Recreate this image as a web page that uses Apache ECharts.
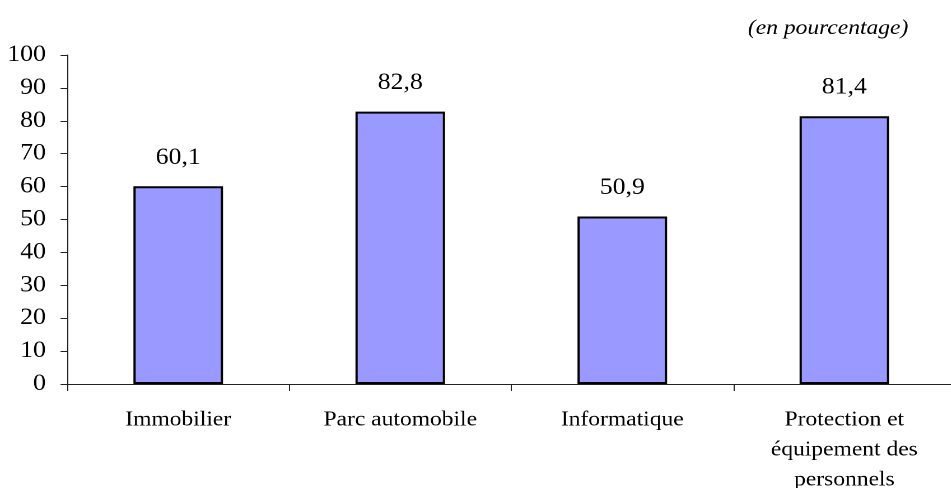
<!DOCTYPE html>
<html><head><meta charset="utf-8">
<script src="https://cdn.jsdelivr.net/npm/echarts@6/dist/echarts.min.js"></script>
<style>
html,body{margin:0;padding:0;background:#fff;overflow:hidden}
#c{width:849px;height:488px;transform:scaleX(1.12);transform-origin:0 0}
</style>
</head><body><div id="c"></div>
<script>
const categories = ["Immobilier", "Parc automobile", "Informatique", "Protection et\néquipement des\npersonnels"];
const values = [60.1, 82.8, 50.9, 81.4];
const yTicks = [0, 10, 20, 30, 40, 50, 60, 70, 80, 90, 100];
const unitLabel = "(en pourcentage)";

const chart = echarts.init(document.getElementById('c'), null, { renderer: 'canvas', devicePixelRatio: 2 });
const font = '"Liberation Serif", "Times New Roman", serif';
chart.setOption({
  animation: false,
  textStyle: { fontFamily: font },
  title: {
    text: unitLabel, right: 33, top: 13,
    textStyle: { fontFamily: font, fontStyle: 'italic', fontWeight: 'normal', fontSize: 21, color: '#000' }
  },
  grid: { left: 60, right: -4, top: 55, bottom: 104, containLabel: false, outerBoundsMode: 'none' },
  xAxis: {
    type: 'category', data: categories,
    axisLine: { lineStyle: { color: '#222', width: 1 } },
    axisTick: { show: true, length: 7, lineStyle: { color: '#222' } },
    axisLabel: { color: '#000', fontSize: 21, fontFamily: font, margin: 21, lineHeight: 30, interval: 0 }
  },
  yAxis: {
    type: 'value', min: yTicks[0], max: yTicks[yTicks.length - 1], interval: 10,
    splitLine: { show: false },
    axisLine: { show: true, lineStyle: { color: '#222', width: 1 } },
    axisTick: { show: true, length: 6, lineStyle: { color: '#222' } },
    axisLabel: { color: '#000', fontSize: 23, fontFamily: font, margin: 19,
      formatter: v => yTicks.includes(v) ? String(v) : '' }
  },
  series: [{
    type: 'bar', data: values, barWidth: 80,
    itemStyle: { color: '#9999FF', borderColor: '#000', borderWidth: 2 },
    label: { show: true, position: 'top', distance: 17, color: '#000', fontSize: 23, fontFamily: font,
      formatter: p => String(p.value).replace('.', ',') }
  }]
});
</script></body></html>
